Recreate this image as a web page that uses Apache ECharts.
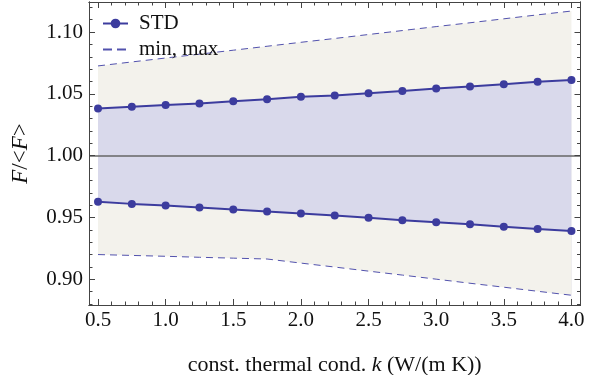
<!DOCTYPE html>
<html>
<head>
<meta charset="utf-8">
<script src="https://cdn.jsdelivr.net/npm/echarts@6/dist/echarts.min.js"></script>
<style>
html, body { margin: 0; padding: 0; background: #fff; }
#main { width: 590px; height: 375px; }
</style>
</head>
<body>
<div id="main"></div>
<script>
// thermal conductivity values (x)
const kVals = [0.5, 0.75, 1.0, 1.25, 1.5, 1.75, 2.0, 2.25, 2.5, 2.75, 3.0, 3.25, 3.5, 3.75, 4.0]
// F/<F> +- STD
const stdUpper = [1.0381, 1.0395, 1.0409, 1.0422, 1.0441, 1.0457, 1.0476, 1.0486, 1.0505, 1.0524, 1.0543, 1.0559, 1.0578, 1.0597, 1.0613]
const stdLower = [0.9627, 0.9610, 0.9597, 0.9581, 0.9565, 0.9548, 0.9532, 0.9516, 0.9497, 0.9478, 0.9462, 0.9446, 0.9425, 0.9406, 0.9390]
// min, max
const maxVals = [1.0726, 1.0758, 1.0790, 1.0821, 1.0853, 1.0885, 1.0917, 1.0948, 1.0980, 1.1012, 1.1044, 1.1075, 1.1107, 1.1139, 1.1170]
const minVals = [0.9200, 0.9193, 0.9186, 0.9178, 0.9171, 0.9164, 0.9131, 0.9099, 0.9066, 0.9034, 0.9001, 0.8968, 0.8936, 0.8903, 0.8871]
// tick labels
const xTicks = [0.5, 1.0, 1.5, 2.0, 2.5, 3.0, 3.5, 4.0]
const yTicks = [0.90, 0.95, 1.00, 1.05, 1.10]

const FONT = 'Liberation Serif'
const FS = 21
const LINE = '#3c3c9e'
const DASH = '#5252ad'
const FRAME = '#444'

function minorOf(majors, step, lo, hi) {
  let out = []
  for (let v = lo; v <= hi + 1e-9; v += step) {
    let r = Math.round(v * 1000) / 1000
    if (!majors.some(m => Math.abs(m - r) < 1e-6)) out.push(r)
  }
  return out
}
const xMinor = minorOf(xTicks, 0.1, 0.5, 4.0)
const yMinor = minorOf(yTicks, 0.01, 0.88, 1.12)

const pairs = (ys) => kVals.map((k, i) => [k, ys[i]])

function xAx(pos, labels, ticks, len) {
  return {
    type: 'value', position: pos, min: 0.4334, max: 4.067, z: 10,
    axisLine: { show: true, onZero: false, lineStyle: { color: FRAME, width: 1 } },
    axisTick: { show: true, inside: true, length: len, customValues: ticks, lineStyle: { color: FRAME } },
    axisLabel: labels ? {
      show: true, customValues: xTicks, margin: 5,
      formatter: v => v.toFixed(1),
      fontFamily: FONT, fontSize: FS, color: '#111'
    } : { show: false },
    splitLine: { show: false }
  }
}
function yAx(pos, labels, ticks, len) {
  return {
    type: 'value', position: pos, min: 0.8792, max: 1.1243, z: 10,
    axisLine: { show: true, onZero: false, lineStyle: { color: FRAME, width: 1 } },
    axisTick: { show: true, inside: true, length: len, customValues: ticks, lineStyle: { color: FRAME } },
    axisLabel: labels ? {
      show: true, customValues: yTicks, margin: 6,
      formatter: v => v.toFixed(2),
      fontFamily: FONT, fontSize: FS, color: '#111'
    } : { show: false },
    splitLine: { show: false }
  }
}

let myChart = echarts.init(document.getElementById('main'))

let xAxes = [
  xAx('bottom', true, xTicks, 6),
  xAx('bottom', false, xMinor, 3.5),
  xAx('top', false, xTicks, 6),
  xAx('top', false, xMinor, 3.5)
]
xAxes[0].name = '{n|const. thermal cond. }{i|k}{n| (W/(m K))}'
xAxes[0].nameLocation = 'middle'
xAxes[0].nameGap = 49
xAxes[0].nameTextStyle = {
  rich: {
    n: { fontFamily: FONT, fontSize: 22, color: '#111' },
    i: { fontFamily: FONT, fontSize: 22, color: '#111', fontStyle: 'italic' }
  }
}
let yAxes = [
  yAx('left', true, yTicks, 6),
  yAx('left', false, yMinor, 3.5),
  yAx('right', false, yTicks, 6),
  yAx('right', false, yMinor, 3.5)
]
yAxes[0].name = '{i|F}{n|/<}{i|F}{n|>}'
yAxes[0].nameLocation = 'middle'
yAxes[0].nameRotate = 90
yAxes[0].nameGap = 57
yAxes[0].nameTextStyle = {
  rich: {
    n: { fontFamily: FONT, fontSize: 23, color: '#111' },
    i: { fontFamily: FONT, fontSize: 23, color: '#111', fontStyle: 'italic' }
  }
}

// bands are layered: each area fills down to the bottom of the plot
function band(ys, color, z) {
  return {
    name: 'band', type: 'line', data: pairs(ys), symbol: 'none', silent: true, z: z,
    lineStyle: { opacity: 0 },
    areaStyle: { color: color, opacity: 1, origin: 'start' }
  }
}

let option = {
  animation: false,
  backgroundColor: '#fff',
  grid: { left: 89, right: 9.5, top: 2, bottom: 70, containLabel: false, outerBoundsMode: 'none' },
  xAxis: xAxes,
  yAxis: yAxes,
  legend: {
    data: [
      { name: 'STD' },
      { name: 'min, max', itemStyle: { color: 'rgba(0,0,0,0)', borderWidth: 0 }, lineStyle: { type: [9, 5] } }
    ],
    orient: 'vertical',
    left: 97,
    top: 8,
    itemWidth: 25,
    itemHeight: 12,
    itemGap: 5,
    textStyle: { fontFamily: FONT, fontSize: FS, color: '#111', padding: [0, 0, 0, 6] }
  },
  series: [
    band(maxVals, '#f3f2ec', 1),
    band(stdUpper, '#d9d9eb', 1.1),
    band(stdLower, '#f3f2ec', 1.2),
    band(minVals, '#ffffff', 1.3),
    {
      name: 'min, max', type: 'line', data: pairs(maxVals), symbol: 'none', z: 3,
      lineStyle: { color: DASH, width: 1, type: [7, 5] }, itemStyle: { color: DASH }
    },
    {
      name: 'min, max', type: 'line', data: pairs(minVals), symbol: 'none', z: 3,
      lineStyle: { color: DASH, width: 1, type: [7, 5] }, itemStyle: { color: DASH }
    },
    {
      name: 'STD', type: 'line', data: pairs(stdUpper), symbol: 'circle', symbolSize: 8, z: 5,
      lineStyle: { color: LINE, width: 2 }, itemStyle: { color: LINE }
    },
    {
      name: 'STD', type: 'line', data: pairs(stdLower), symbol: 'circle', symbolSize: 8, z: 5,
      lineStyle: { color: LINE, width: 2 }, itemStyle: { color: LINE },
      markLine: {
        silent: true, symbol: 'none', label: { show: false },
        lineStyle: { color: '#666', width: 1.5, type: 'solid' },
        data: [{ yAxis: 1.0 }]
      }
    }
  ]
}
myChart.setOption(option)
</script>
</body>
</html>
